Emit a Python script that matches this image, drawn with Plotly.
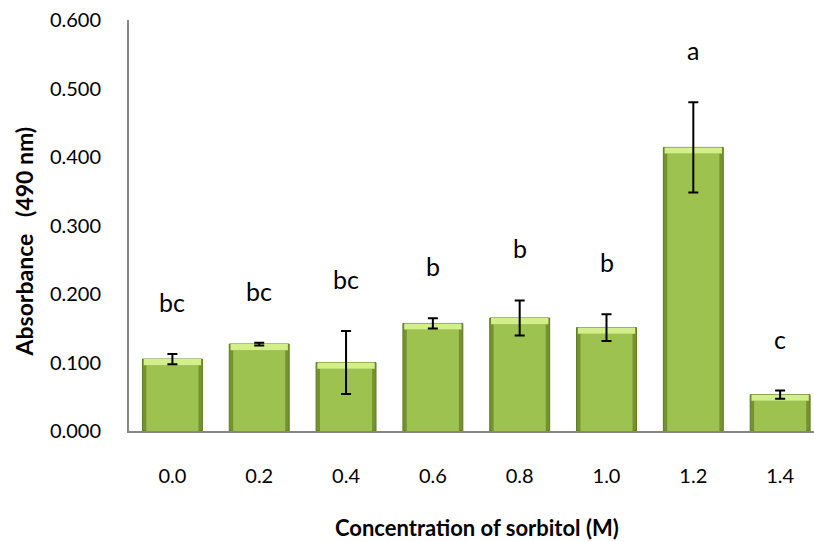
import plotly.graph_objects as go

categories = ["0.0", "0.2", "0.4", "0.6", "0.8", "1.0", "1.2", "1.4"]
absorbance = [0.105, 0.127, 0.100, 0.157, 0.165, 0.151, 0.414, 0.053]
errors = [0.0075, 0.002, 0.046, 0.0075, 0.0255, 0.0195, 0.066, 0.006]
letters = ["bc", "bc", "bc", "b", "b", "b", "a", "c"]
y_ticks = [0.0, 0.1, 0.2, 0.3, 0.4, 0.5, 0.6]

FONT = "Lato"
strip = 0.009
inner_top = [v - strip for v in absorbance]
strip_base = [v - strip for v in absorbance]
strip_h = [strip] * len(absorbance)

fig = go.Figure()
# outer (darker edge) bar
fig.add_trace(go.Bar(x=categories, y=absorbance, width=0.69,
                     marker=dict(color="#74932f", line=dict(color="#5d7a22", width=1)),
                     showlegend=False, hoverinfo="skip"))
# inner body
fig.add_trace(go.Bar(x=categories, y=inner_top, width=0.60,
                     marker=dict(color="#9ec250", line=dict(width=0)),
                     showlegend=False, hoverinfo="skip"))
# top highlight strip
fig.add_trace(go.Bar(x=categories, y=strip_h, base=strip_base, width=0.66,
                     marker=dict(color="#d3ef8a", line=dict(width=0)),
                     showlegend=False, hoverinfo="skip"))
# error bars
fig.add_trace(go.Scatter(x=categories, y=absorbance, mode="markers",
                         marker=dict(size=1, color="rgba(0,0,0,0)"),
                         error_y=dict(type="data", array=errors, visible=True,
                                      color="black", thickness=2, width=5),
                         showlegend=False, hoverinfo="skip"))

# significance letters (placed by category index)
for i, (v, e, t) in enumerate(zip(absorbance, errors, letters)):
    fig.add_annotation(x=i, y=v + e + 0.076, text=t, showarrow=False,
                       xref="x", yref="y", yanchor="middle",
                       font=dict(family=FONT, size=25, color="black"))

fig.add_annotation(xref="paper", yref="paper", x=-0.154, y=0.46,
                   text="<b>Absorbance&nbsp;&nbsp;&nbsp;(490 nm)</b>", textangle=-90,
                   showarrow=False, xanchor="center", yanchor="middle",
                   font=dict(family=FONT, size=23, color="black"))
fig.add_annotation(xref="paper", yref="paper", x=0.508, y=-0.235,
                   text="<b>Concentration of sorbitol (M)</b>",
                   showarrow=False, xanchor="center", yanchor="middle",
                   font=dict(family=FONT, size=22, color="black"))

fig.update_layout(
    width=814, height=542,
    margin=dict(l=129, r=0, t=20, b=111),
    plot_bgcolor="white", paper_bgcolor="white",
    barmode="overlay",
    font=dict(family=FONT, size=20, color="black"),
    xaxis=dict(type="category", range=[-0.5, 7.39], showgrid=False,
               showline=True, linecolor="#868686", linewidth=2,
               ticks="", ticklabelstandoff=26, automargin=False,
               tickfont=dict(family=FONT, size=20)),
    yaxis=dict(range=[0, 0.6], tickvals=y_ticks, tickformat=".3f",
               showgrid=False, zeroline=False,
               showline=True, linecolor="#868686", linewidth=2,
               ticks="", ticklabelstandoff=22, automargin=False,
               tickfont=dict(family=FONT, size=20)),
)

fig.write_html("out.html", config={"displayModeBar": False},
               post_script="document.body.style.margin='0';document.body.style.overflow='hidden';")
